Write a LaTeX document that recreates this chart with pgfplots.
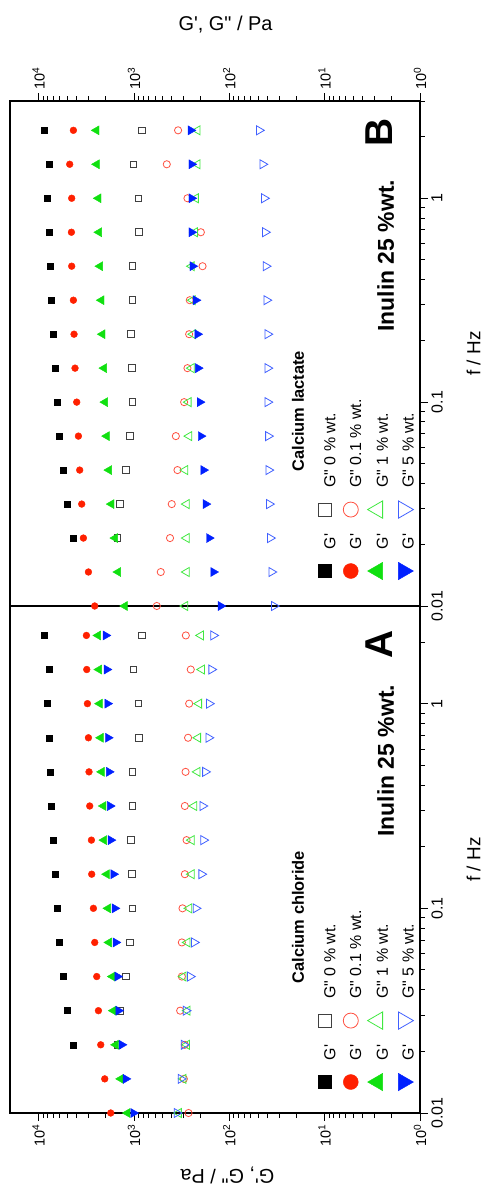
\documentclass[border=0pt]{standalone}
\usepackage{fontspec}
\setmainfont{Liberation Sans}
\usepackage{pgfplots}
\usepackage{pgfplotstable}
\pgfplotsset{compat=1.18}

\definecolor{cred}{HTML}{FF2000}
\definecolor{cgreen}{HTML}{10E010}
\definecolor{cblue}{HTML}{0020FF}
\definecolor{cgray}{HTML}{404040}
\definecolor{cred2}{HTML}{FF5040}
\definecolor{cgreen2}{HTML}{40E840}
\definecolor{cblue2}{HTML}{4060FF}

\newcommand{\Gp}{G\textquotesingle}
\newcommand{\Gpp}{G\textquotedbl}

% f / Hz, then G', G'' / Pa for 0, 0.1, 1 and 5 % wt. calcium chloride
\pgfplotstableread{
f       a0p   a0pp  a01p  a01pp a1p   a1pp  a5p   a5pp
0.01    nan   nan   1754  268   1172  339   1014  356
0.01468 nan   nan   2028  300   1377  303   1221  323
0.02154 4365  1492  2234  293   1555  279   1345  300
0.03162 4963  1412  2362  328   1643  275   1456  286
0.04642 5506  1212  2461  315   1684  303   1492  258
0.06813 6025  1100  2583  315   1828  275   1555  234
0.1     6366  1038  2666  310   1872  264   1592  225
0.1468  6745  1056  2779  293   1932  249   1643  196
0.2154  7010  1082  2798  281   2062  249   1754  187
0.3162  7360  1038  2916  293   2093  234   1784  191
0.4642  7536  1038  2965  288   2182  216   1828  179
0.6813  7795  885   3007  271   2234  213   1872  165
1.0     8105  898   3081  264   2290  208   1901  163
1.468   7795  1014  3133  254   2328  194   1932  154
2.154   8795  829   3157  286   2385  199   1981  147
}\chloride

% calcium lactate (0 % wt. is the same sample as above)
\pgfplotstableread{
f       b01p  b01pp b1p   b1pp  b5p   b5pp
0.01    2583  577   1250  291   123   33.9
0.01468 3007  524   1470  281   147   36.1
0.02154 3396  419   1581  281   163   37.3
0.03162 3537  402   1726  281   177   38.2
0.04642 3714  350   1828  291   187   38.8
0.06813 3831  364   1932  264   199   39.1
0.1     3992  298   2014  268   204   39.7
0.1468  4157  275   2062  249   213   39.7
0.2154  4257  264   2144  240   216   39.7
0.3162  4324  260   2197  243   225   40.7
0.4642  4506  191   2271  248   243   41.4
0.6813  4536  199   2328  230   249   42.1
1.0     4506  275   2362  225   249   43.1
1.468   4728  453   2461  216   249   44.8
2.154   4324  345   2479  216   254   48.7
}\lactate

\pgfplotsset{
  legmk/.style={legend image code/.code={%
      \path[draw=none, fill=none] (-11bp,-3.5bp) rectangle (11bp,14.5bp);
      \draw[##1] plot coordinates {(0bp,5.5bp)};}},
  serAp/.style={only marks, mark=square*, black, mark size=3bp, legmk, legend image post style={mark size=6.5bp}},
  serApp/.style={only marks, mark=square, cgray, mark size=3.3bp, line width=0.9bp, legmk, legend image post style={mark size=6.5bp}},
  serBp/.style={only marks, mark=*, cred, mark size=3.4bp, legmk, legend image post style={mark size=7.5bp}},
  serBpp/.style={only marks, mark=o, cred2, mark size=3.6bp, line width=0.8bp, legmk, legend image post style={mark size=7.5bp}},
  serCp/.style={only marks, mark=triangle*, cgreen, mark size=5.2bp, legmk, legend image post style={mark size=10bp}},
  serCpp/.style={only marks, mark=triangle, cgreen2, mark size=5.2bp, line width=0.8bp, legmk, legend image post style={mark size=10bp}},
  serDp/.style={only marks, mark=triangle*, cblue, mark size=5.2bp, mark options={rotate=180}, legmk, legend image post style={mark size=10bp}},
  serDpp/.style={only marks, mark=triangle, cblue2, mark size=5.2bp, line width=0.8bp, mark options={rotate=180}, legmk, legend image post style={mark size=10bp}},
}

\begin{document}
\begin{tikzpicture}
\begin{scope}[transform canvas={rotate=90}]
  % panel A: calcium chloride
  \begin{axis}[name=A, at={(73bp,66bp)}, anchor=south west,
      scale only axis, width=507bp, height=410bp,
      xmode=log, ymode=log,
      xmin=0.01, xmax=3, ymin=1, ymax=2e4,
      axis line style={line width=1.2bp},
      tick align=outside,
      major tick length=8bp, minor tick length=5bp,
      every tick/.style={black, line width=0.9bp},
      xtick={0.01,0.1,1}, xticklabels={0.01,0.1,1},
      minor xtick={0.02,0.03,0.04,0.05,0.06,0.07,0.08,0.09,0.2,0.3,0.4,0.5,0.6,0.7,0.8,0.9,2,3},
      ytick={1,10,100,1000,10000},
      yticklabels={10\textsuperscript{0},10\textsuperscript{1},10\textsuperscript{2},10\textsuperscript{3},10\textsuperscript{4}},
      minor ytick={2,3,4,5,6,7,8,9,20,30,40,50,60,70,80,90,200,300,400,500,600,700,800,900,2000,3000,4000,5000,6000,7000,8000,9000},
      xtick pos=bottom, ytick pos=left,
      xticklabel style={font=\fontsize{16}{19}\selectfont},
      yticklabel style={font=\fontsize{14.5}{17}\selectfont},
      legend columns=2,
      legend cell align=left,
      legend style={draw=none, fill=none, inner sep=0pt, outer sep=0pt,
        at={(0.0394,0.2537)}, anchor=north west, column sep=11bp,
        /tikz/every even column/.append style={column sep=13bp},
        row sep=5bp, font=\fontsize{16}{19}\selectfont, nodes={inner sep=0pt}}]
    \addplot[serAp]  table[x=f, y=a0p]   {\chloride};
    \addlegendentry{\Gp}
    \addplot[serApp] table[x=f, y=a0pp]  {\chloride};
    \addlegendentry{\Gpp{} 0 \% wt.}
    \addplot[serBp]  table[x=f, y=a01p]  {\chloride};
    \addlegendentry{\Gp}
    \addplot[serBpp] table[x=f, y=a01pp] {\chloride};
    \addlegendentry{\Gpp{} 0.1 \% wt.}
    \addplot[serCp]  table[x=f, y=a1p]   {\chloride};
    \addlegendentry{\Gp}
    \addplot[serCpp] table[x=f, y=a1pp]  {\chloride};
    \addlegendentry{\Gpp{} 1 \% wt.}
    \addplot[serDp]  table[x=f, y=a5p]   {\chloride};
    \addlegendentry{\Gp}
    \addplot[serDpp] table[x=f, y=a5pp]  {\chloride};
    \addlegendentry{\Gpp{} 5 \% wt.}
  \end{axis}

  % panel B: calcium lactate
  \begin{axis}[name=B, at={(580bp,66bp)}, anchor=south west,
      scale only axis, width=505bp, height=410bp,
      xmode=log, ymode=log,
      xmin=0.01, xmax=3, ymin=1, ymax=2e4,
      axis line style={line width=1.2bp},
      tick align=outside,
      major tick length=8bp, minor tick length=5bp,
      every tick/.style={black, line width=0.9bp},
      xtick={0.01,0.1,1}, xticklabels={0.01,0.1,1},
      minor xtick={0.02,0.03,0.04,0.05,0.06,0.07,0.08,0.09,0.2,0.3,0.4,0.5,0.6,0.7,0.8,0.9,2,3},
      ytick={1,10,100,1000,10000},
      yticklabels={10\textsuperscript{0},10\textsuperscript{1},10\textsuperscript{2},10\textsuperscript{3},10\textsuperscript{4}},
      minor ytick={2,3,4,5,6,7,8,9,20,30,40,50,60,70,80,90,200,300,400,500,600,700,800,900,2000,3000,4000,5000,6000,7000,8000,9000},
      xtick pos=bottom, ytick pos=right, yticklabel pos=right,
      xticklabel style={font=\fontsize{16}{19}\selectfont},
      yticklabel style={font=\fontsize{14.5}{17}\selectfont},
      legend columns=2,
      legend cell align=left,
      legend style={draw=none, fill=none, inner sep=0pt, outer sep=0pt,
        at={(0.0475,0.2537)}, anchor=north west, column sep=11bp,
        /tikz/every even column/.append style={column sep=13bp},
        row sep=5bp, font=\fontsize{16}{19}\selectfont, nodes={inner sep=0pt}}]
    \addplot[serAp]  table[x=f, y=a0p]   {\chloride};
    \addlegendentry{\Gp}
    \addplot[serApp] table[x=f, y=a0pp]  {\chloride};
    \addlegendentry{\Gpp{} 0 \% wt.}
    \addplot[serBp]  table[x=f, y=b01p]  {\lactate};
    \addlegendentry{\Gp}
    \addplot[serBpp] table[x=f, y=b01pp] {\lactate};
    \addlegendentry{\Gpp{} 0.1 \% wt.}
    \addplot[serCp]  table[x=f, y=b1p]   {\lactate};
    \addlegendentry{\Gp}
    \addplot[serCpp] table[x=f, y=b1pp]  {\lactate};
    \addlegendentry{\Gpp{} 1 \% wt.}
    \addplot[serDp]  table[x=f, y=b5p]   {\lactate};
    \addlegendentry{\Gp}
    \addplot[serDpp] table[x=f, y=b5pp]  {\lactate};
    \addlegendentry{\Gpp{} 5 \% wt.}
  \end{axis}

  % titles and labels
  \node[anchor=base west, font=\bfseries\fontsize{16.5}{19}\selectfont] at (199bp,182bp) {Calcium chloride};
  \node[anchor=base west, font=\bfseries\fontsize{16.5}{19}\selectfont] at (711bp,182bp) {Calcium lactate};
  \node[anchor=base west, font=\bfseries\fontsize{23}{27}\selectfont] at (346bp,92bp) {Inulin 25 \%wt.};
  \node[anchor=base west, font=\bfseries\fontsize{23}{27}\selectfont] at (851bp,92bp) {Inulin 25 \%wt.};
  \node[anchor=base west, font=\bfseries\fontsize{39}{44}\selectfont] at (524bp,93bp) {A};
  \node[anchor=base west, font=\bfseries\fontsize{39}{44}\selectfont] at (1036bp,93bp) {B};
  \node[font=\fontsize{19}{22}\selectfont] at (326.5bp,12.5bp) {f / Hz};
  \node[font=\fontsize{19}{22}\selectfont] at (832.5bp,12.5bp) {f / Hz};
  \node[rotate=90, font=\fontsize{20}{23}\selectfont] at (11bp,258.5bp) {\Gp, \Gpp{} / Pa};
  \node[rotate=-90, font=\fontsize{20}{23}\selectfont] at (1161.5bp,260.5bp) {\Gp, \Gpp{} / Pa};
\end{scope}
\pgfresetboundingbox
\path[use as bounding box] (-486bp,0bp) rectangle (0bp,1186bp);
\end{tikzpicture}
\end{document}
